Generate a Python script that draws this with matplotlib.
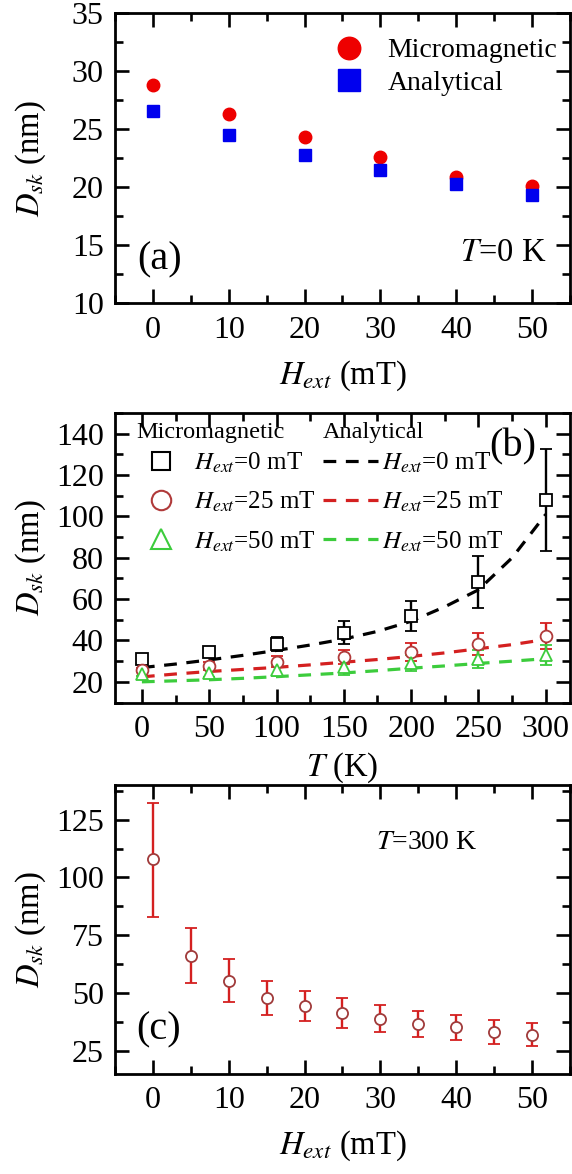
import matplotlib
matplotlib.use("Agg")
import matplotlib.pyplot as plt
from matplotlib.lines import Line2D
from matplotlib.ticker import MultipleLocator
import numpy as np

plt.rcParams['font.family'] = ['Liberation Serif', 'DejaVu Serif']
plt.rcParams['mathtext.fontset'] = 'stix'

# (a) skyrmion diameter at T = 0 K
h_a = [0, 10, 20, 30, 40, 50]
d_micro_a = [28.85, 26.3, 24.35, 22.65, 20.9, 20.1]
d_anal_a = [26.6, 24.5, 22.8, 21.5, 20.3, 19.3]

# (b) diameter vs temperature
t_b = [0, 50, 100, 150, 200, 250, 300]
d0_b = [31.2, 34.4, 38.4, 43.7, 51.8, 68.3, 108.0]
e0_b = [1.0, 1.5, 3.4, 5.6, 7.4, 12.6, 24.7]
d25_b = [25.8, 27.7, 29.8, 32.2, 34.4, 38.2, 42.1]
e25_b = [1.0, 2.0, 2.5, 3.4, 4.2, 5.3, 6.3]
d50_b = [23.7, 24.5, 25.5, 27.0, 29.0, 31.0, 33.0]
e50_b = [1.0, 2.0, 2.8, 3.5, 3.8, 4.5, 5.0]

t_fit = [0, 25, 50, 75, 100, 125, 150, 175, 200, 225, 250, 275, 300]
fit0 = [26.9, 28.6, 30.6, 32.8, 35.2, 37.8, 40.7, 44.4, 49.3, 56.3, 64.5, 80.0, 101.0]
fit25 = [22.4, 23.8, 25.0, 26.0, 27.0, 28.2, 29.5, 30.8, 32.3, 34.0, 36.0, 38.0, 40.5]
fit50 = [20.0, 20.5, 21.0, 21.7, 22.5, 23.4, 24.3, 25.4, 26.6, 27.7, 28.9, 30.0, 31.2]

# (c) diameter vs field at T = 300 K
h_c = [0, 5, 10, 15, 20, 25, 30, 35, 40, 45, 50]
d_c = [107.8, 65.9, 55.4, 47.8, 44.5, 41.5, 38.9, 36.5, 35.1, 33.1, 32.0]
lo_c = [82.8, 54.4, 46.1, 40.5, 37.9, 35.0, 33.2, 31.0, 29.7, 27.9, 27.1]
hi_c = [132.3, 78.1, 64.7, 55.1, 51.1, 47.9, 44.9, 42.2, 40.4, 38.2, 37.1]

RED = '#ee0000'
BLUE = '#0000ee'
DRED = '#d42020'
GREEN = '#3ccc3c'

fig = plt.figure(figsize=(5.72, 11.74), dpi=100)
ax_a = fig.add_axes([0.2010, 0.7417, 0.7955, 0.2470])
ax_b = fig.add_axes([0.2010, 0.4016, 0.7955, 0.2466])
ax_c = fig.add_axes([0.2010, 0.0852, 0.7955, 0.2462])


def style(ax):
    ax.tick_params(which='both', direction='in', top=True, right=True,
                   width=1.9, labelsize=23)
    ax.tick_params(which='major', length=10)
    ax.tick_params(which='minor', length=6)
    ax.tick_params(axis='x', pad=9)
    ax.tick_params(axis='y', pad=8)
    for s in ax.spines.values():
        s.set_linewidth(2.0)


# ---- (a)
ax_a.plot(h_a, d_micro_a, 'o', color=RED, ms=9, label='Micromagnetic')
ax_a.plot(h_a, d_anal_a, 's', color=BLUE, ms=8.5, label='Analytical')
ax_a.set_xlim(-5, 55)
ax_a.set_ylim(10, 35)
ax_a.xaxis.set_major_locator(MultipleLocator(10))
ax_a.xaxis.set_minor_locator(MultipleLocator(5))
ax_a.yaxis.set_major_locator(MultipleLocator(5))
ax_a.yaxis.set_minor_locator(MultipleLocator(2.5))
style(ax_a)
ax_a.legend(loc='upper left', bbox_to_anchor=(0.465, 0.915), frameon=False,
            fontsize=20, markerscale=1.8, handlelength=1.6,
            handletextpad=0.6, labelspacing=0.25, borderpad=0, borderaxespad=0)
ax_a.text(0.099, 0.149, '(a)', transform=ax_a.transAxes, fontsize=29,
          ha='center', va='center')
ax_a.text(0.949, 0.173, '$T$=0 K', transform=ax_a.transAxes, fontsize=23.5,
          ha='right', va='center')
ax_a.set_xlabel('$H_{ext}$ (mT)', fontsize=23.5)
ax_a.set_ylabel('$D_{sk}$ (nm)', fontsize=23.5)

# ---- (b)
eb = dict(capsize=4.6, elinewidth=1.7, capthick=1.9, ls='none', mew=1.3)
ax_b.errorbar(t_b, d0_b, yerr=e0_b, fmt='s', color='k', mfc='white',
              mec='k', ms=8, **eb)
ax_b.errorbar(t_b, d25_b, yerr=e25_b, fmt='o', color=DRED, mfc='white',
              mec='#b03a3a', ms=8.5, **eb)
ax_b.errorbar(t_b, d50_b, yerr=e50_b, fmt='^', color=GREEN, mfc='white',
              mec=GREEN, ms=8.5, **eb)
ax_b.plot(t_fit, fit0, color='k', lw=2.3, dashes=(4, 3))
ax_b.plot(t_fit, fit25, color=DRED, lw=2.3, dashes=(4, 3))
ax_b.plot(t_fit, fit50, color=GREEN, lw=2.3, dashes=(4, 3))
ax_b.set_xlim(-20, 318)
ax_b.set_ylim(10, 150)
ax_b.xaxis.set_major_locator(MultipleLocator(50))
ax_b.xaxis.set_minor_locator(MultipleLocator(25))
ax_b.yaxis.set_major_locator(MultipleLocator(20))
ax_b.yaxis.set_minor_locator(MultipleLocator(10))
style(ax_b)

labels = ['$H_{ext}$=0 mT', '$H_{ext}$=25 mT', '$H_{ext}$=50 mT']
mk_handles = [
    Line2D([], [], marker='s', ls='none', mfc='white', mec='k', ms=13, mew=1.5),
    Line2D([], [], marker='o', ls='none', mfc='white', mec='#b03a3a', ms=14, mew=1.5),
    Line2D([], [], marker='^', ls='none', mfc='white', mec=GREEN, ms=15, mew=1.5),
]
ln_handles = [
    Line2D([], [], color='k', lw=2.3, dashes=(4, 3)),
    Line2D([], [], color=DRED, lw=2.3, dashes=(4, 3)),
    Line2D([], [], color=GREEN, lw=2.3, dashes=(4, 3)),
]
leg1 = ax_b.legend(mk_handles, labels, loc='upper left',
                   bbox_to_anchor=(0.066, 0.87), frameon=False, fontsize=18,
                   handlelength=1.3, handletextpad=0.65, labelspacing=0.6,
                   borderpad=0, borderaxespad=0)
ax_b.add_artist(leg1)
ax_b.legend(ln_handles, labels, loc='upper left',
            bbox_to_anchor=(0.457, 0.87), frameon=False, fontsize=18,
            handlelength=2.2, handletextpad=0.15, labelspacing=0.6,
            borderpad=0, borderaxespad=0)
ax_b.text(0.046, 0.931, 'Micromagnetic', transform=ax_b.transAxes,
          fontsize=17.5, ha='left', va='center')
ax_b.text(0.457, 0.931, 'Analytical', transform=ax_b.transAxes,
          fontsize=17.5, ha='left', va='center')
ax_b.text(0.875, 0.883, '(b)', transform=ax_b.transAxes, fontsize=29,
          ha='center', va='center')
ax_b.set_xlabel('$T$ (K)', fontsize=23.5)
ax_b.set_ylabel('$D_{sk}$ (nm)', fontsize=23.5)

# ---- (c)
d_c_arr = np.array(d_c)
yerr_c = [d_c_arr - np.array(lo_c), np.array(hi_c) - d_c_arr]
ax_c.errorbar(h_c, d_c, yerr=yerr_c, fmt='o', color=DRED, mfc='white',
              mec='#a03a3a', ms=8, **eb)
ax_c.set_xlim(-5, 55)
ax_c.set_ylim(15, 140)
ax_c.xaxis.set_major_locator(MultipleLocator(10))
ax_c.xaxis.set_minor_locator(MultipleLocator(5))
ax_c.yaxis.set_major_locator(MultipleLocator(25))
ax_c.yaxis.set_minor_locator(MultipleLocator(12.5))
style(ax_c)
ax_c.text(0.095, 0.152, '(c)', transform=ax_c.transAxes, fontsize=29,
          ha='center', va='center')
ax_c.text(0.574, 0.80, '$T$=300 K', transform=ax_c.transAxes, fontsize=20,
          ha='left', va='center')
ax_c.set_xlabel('$H_{ext}$ (mT)', fontsize=23.5)
ax_c.set_ylabel('$D_{sk}$ (nm)', fontsize=23.5)

for ax in (ax_a, ax_b, ax_c):
    ax.yaxis.set_label_coords(-0.147, 0.5)
ax_a.xaxis.set_label_coords(0.5, -0.19)
ax_b.xaxis.set_label_coords(0.5, -0.165)
ax_c.xaxis.set_label_coords(0.5, -0.19)

fig.savefig('out.png', dpi=100)
